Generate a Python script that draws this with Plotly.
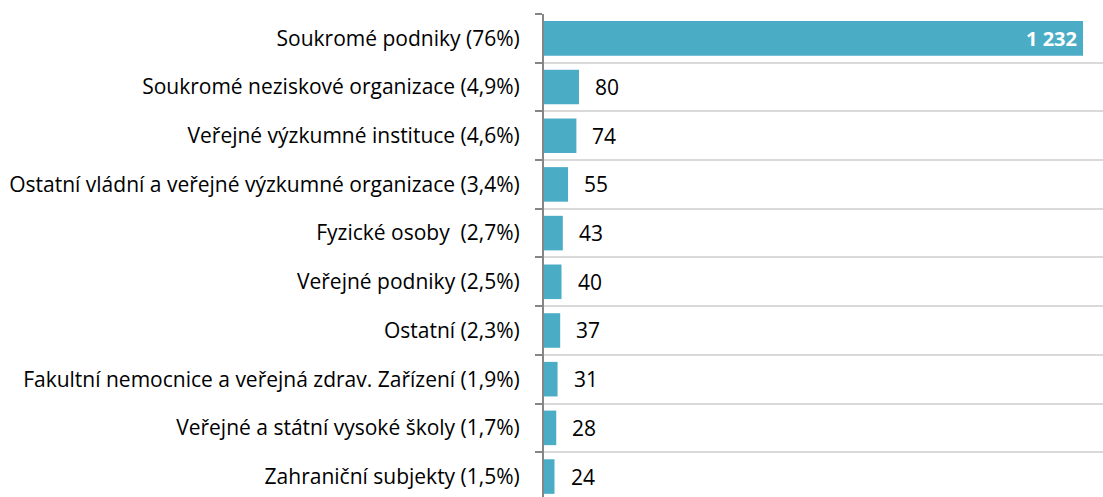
import plotly.graph_objects as go

categories = [
    "Soukromé podniky (76%)",
    "Soukromé neziskové organizace (4,9%)",
    "Veřejné výzkumné instituce (4,6%)",
    "Ostatní vládní a veřejné výzkumné organizace (3,4%)",
    "Fyzické osoby  (2,7%)",
    "Veřejné podniky (2,5%)",
    "Ostatní (2,3%)",
    "Fakultní nemocnice a veřejná zdrav. Zařízení (1,9%)",
    "Veřejné a státní vysoké školy (1,7%)",
    "Zahraniční subjekty (1,5%)",
]
values = [1232, 80, 74, 55, 43, 40, 37, 31, 28, 24]
value_labels = ["1 232", "80", "74", "55", "43", "40", "37", "31", "28", "24"]

BAR = "#4BACC6"
FONT = "'Open Sans', sans-serif"

fig = go.Figure(go.Bar(
    x=values, y=categories, orientation="h",
    marker=dict(color=BAR, line=dict(width=0)),
    width=0.71, hoverinfo="skip",
))

for i, (v, c, lab) in enumerate(zip(values, categories, value_labels)):
    if i == 0:
        fig.add_annotation(x=v, y=c, text="<b>" + lab + "</b>", showarrow=False,
                           xanchor="right", xshift=-4,
                           font=dict(family=FONT, size=20, color="white"))
    else:
        fig.add_annotation(x=v, y=c, text=lab, showarrow=False,
                           xanchor="left", xshift=14,
                           font=dict(family=FONT, size=21, color="black"))

fig.update_layout(
    width=1103, height=497,
    margin=dict(l=544, r=0, t=14, b=0),
    paper_bgcolor="white", plot_bgcolor="white",
    showlegend=False,
    font=dict(family=FONT, size=20, color="black"),
    xaxis=dict(range=[0, 1277.7], showgrid=False, showticklabels=False,
               zeroline=False, showline=False, fixedrange=True),
    yaxis=dict(type="category", categoryorder="array", categoryarray=categories,
               range=[9.42, -0.5], tickson="boundaries",
               showgrid=True, gridcolor="#D9D9D9", gridwidth=2,
               showline=True, linecolor="#868686", linewidth=2,
               ticks="outside", ticklen=7, tickcolor="#868686", tickwidth=2,
               ticklabelstandoff=18,
               tickfont=dict(family=FONT, size=21, color="black"),
               automargin=False, fixedrange=True),
)

fig.write_html("out.html")
